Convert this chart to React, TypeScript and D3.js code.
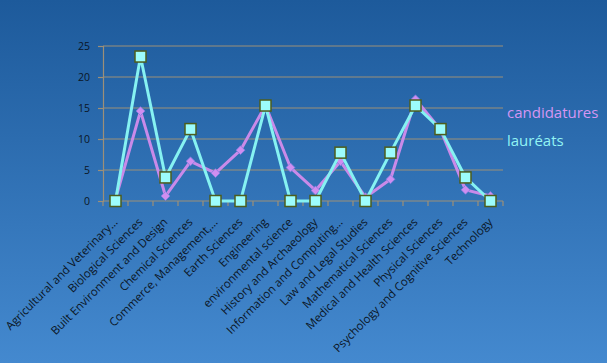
import React, { useRef, useEffect } from "react";
import * as d3 from "d3";

const categories = [
  "Agricultural and Veterinary…",
  "Biological Sciences",
  "Built Environment and Design",
  "Chemical Sciences",
  "Commerce, Management,…",
  "Earth Sciences",
  "Engineering",
  "environmental science",
  "History and Archaeology",
  "Information and Computing…",
  "Law and Legal Studies",
  "Mathematical Sciences",
  "Medical and Health Sciences",
  "Physical Sciences",
  "Psychology and Cognitive Sciences",
  "Technology",
];

const candidatures = [0.3, 14.5, 0.8, 6.4, 4.5, 8.2, 15.4, 5.4, 1.7, 6.4, 0.6, 3.5, 16.4, 11.5, 1.8, 0.8];
const laureats = [0, 23.3, 3.8, 11.6, 0, 0, 15.4, 0, 0, 7.8, 0, 7.8, 15.4, 11.6, 3.8, 0];
const yTicks = [0, 5, 10, 15, 20, 25];

const App = () => {
  const chartRef = useRef<SVGSVGElement>(null);
  const width = 607,
    height = 363,
    plotLeft = 103,
    plotRight = 503,
    plotTop = 46,
    plotBottom = 201;

  useEffect(() => {
    document.body.style.margin = "0";
    if (!chartRef.current) return;
    const svg = d3.select(chartRef.current);
    svg.selectAll("*").remove();
    svg.attr("width", width).attr("height", height).style("display", "block");

    const defs = svg.append("defs");
    const grad = defs
      .append("linearGradient")
      .attr("id", "bg")
      .attr("x1", 0)
      .attr("y1", 0)
      .attr("x2", 0)
      .attr("y2", 1);
    grad.append("stop").attr("offset", "0%").attr("stop-color", "#1d5a9b");
    grad.append("stop").attr("offset", "100%").attr("stop-color", "#4489cf");
    svg.append("rect").attr("width", width).attr("height", height).attr("fill", "url(#bg)");

    const x = d3.scaleBand().domain(categories).range([plotLeft, plotRight]);
    const y = d3.scaleLinear().domain([0, 25]).range([plotBottom, plotTop]);
    const cx = (i: number) => (x(categories[i]) as number) + x.bandwidth() / 2;

    // gridlines
    svg
      .append("g")
      .selectAll("line")
      .data(yTicks.filter((d) => d > 0))
      .join("line")
      .attr("x1", plotLeft)
      .attr("x2", plotRight)
      .attr("y1", (d) => y(d))
      .attr("y2", (d) => y(d))
      .attr("stroke", "#9c8f78")
      .attr("stroke-width", 1.2);

    // y axis
    const yAxis = svg
      .append("g")
      .attr("transform", `translate(${plotLeft},0)`)
      .call(d3.axisLeft(y).tickValues(yTicks).tickSize(5).tickPadding(8));
    yAxis.selectAll("line, path").attr("stroke", "#9c8f78").attr("stroke-width", 1.2);
    yAxis
      .selectAll("text")
      .attr("fill", "#0b1626")
      .style("font", "10.5px 'Open Sans', sans-serif");

    // x axis
    const xAxis = svg.append("g").attr("transform", `translate(0,${plotBottom})`);
    xAxis
      .append("line")
      .attr("x1", plotLeft)
      .attr("x2", plotRight)
      .attr("stroke", "#9c8f78")
      .attr("stroke-width", 1.2);
    xAxis
      .selectAll("line.tick")
      .data(d3.range(categories.length + 1))
      .join("line")
      .attr("class", "tick")
      .attr("x1", (i) => plotLeft + i * x.bandwidth())
      .attr("x2", (i) => plotLeft + i * x.bandwidth())
      .attr("y1", 0)
      .attr("y2", 5)
      .attr("stroke", "#9c8f78")
      .attr("stroke-width", 1.2);
    xAxis
      .selectAll("text")
      .data(categories)
      .join("text")
      .attr("transform", (_, i) => `translate(${cx(i)},${19}) rotate(-45)`)
      .attr("text-anchor", "end")
      .attr("dy", "0.35em")
      .attr("fill", "#0b1626")
      .style("font", "11.5px 'Open Sans', sans-serif")
      .text((d) => d);

    const line = d3
      .line<number>()
      .x((_, i) => cx(i))
      .y((d) => y(d));

    // candidatures
    svg
      .append("path")
      .attr("d", line(candidatures))
      .attr("fill", "none")
      .attr("stroke", "#c98ae9")
      .attr("stroke-width", 3)
      .attr("stroke-linejoin", "round");
    svg
      .append("g")
      .selectAll("path")
      .data(candidatures)
      .join("path")
      .attr("d", d3.symbol().type(d3.symbolDiamond2).size(50))
      .attr("transform", (d, i) => `translate(${cx(i)},${y(d)})`)
      .attr("fill", "#cf8ef0")
      .attr("stroke", "#7f7ee0")
      .attr("stroke-width", 0.8);

    // laureats
    svg
      .append("path")
      .attr("d", line(laureats))
      .attr("fill", "none")
      .attr("stroke", "#86f2f2")
      .attr("stroke-width", 3)
      .attr("stroke-linejoin", "round");
    const sq = 11;
    svg
      .append("g")
      .selectAll("rect")
      .data(laureats)
      .join("rect")
      .attr("x", (_, i) => cx(i) - sq / 2)
      .attr("y", (d) => y(d) - sq / 2)
      .attr("width", sq)
      .attr("height", sq)
      .attr("fill", "#9cfcfc")
      .attr("stroke", "#4d5d1c")
      .attr("stroke-width", 1.5);

    // legend
    const legend = svg.append("g").style("font", "15px 'Open Sans', sans-serif");
    legend.append("text").attr("x", 507).attr("y", 118).attr("fill", "#d596f2").text("candidatures");
    legend.append("text").attr("x", 507).attr("y", 146).attr("fill", "#92f4f4").text("lauréats");
  }, []);

  return <svg ref={chartRef}></svg>;
};

export default App;
